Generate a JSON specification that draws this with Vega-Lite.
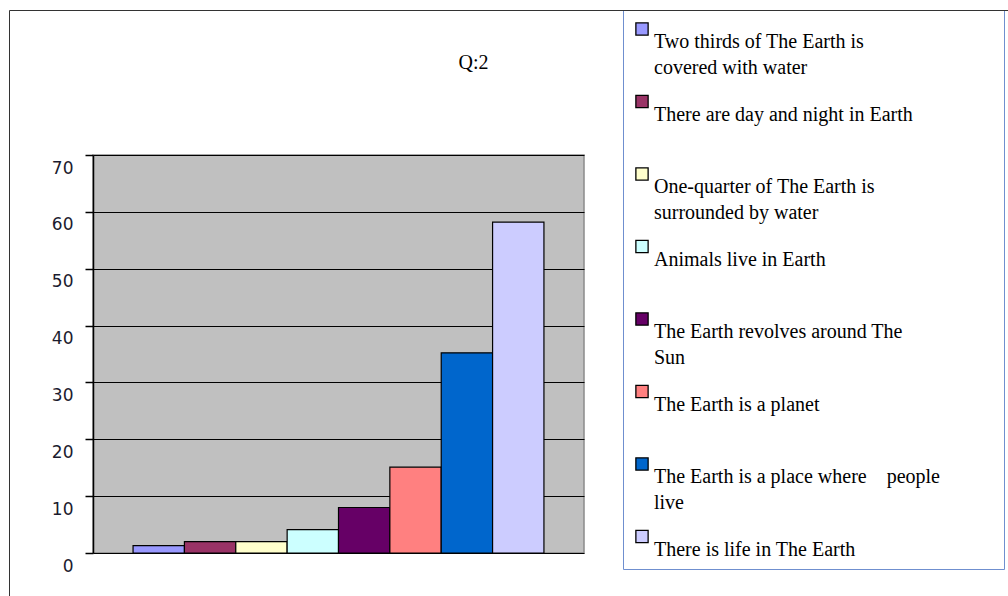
{
  "$schema": "https://vega.github.io/schema/vega-lite/v6.json",
  "width": 491,
  "height": 398,
  "autosize": "none",
  "padding": {"left": 93, "top": 155, "right": 424, "bottom": 43},
  "background": "white",
  "title": {
    "text": "Q:2",
    "font": "Liberation Serif",
    "fontSize": 20,
    "fontWeight": "normal",
    "color": "black",
    "anchor": "middle",
    "frame": "group",
    "baseline": "alphabetic",
    "offset": -79,
    "dx": 135
  },
  "data": {
    "values": [
      {"answer": "Two thirds of The Earth is\ncovered with water", "percent": 1.3},
      {"answer": "There are day and night in Earth", "percent": 2.0},
      {"answer": "One-quarter of The Earth is\nsurrounded by water", "percent": 2.0},
      {"answer": "Animals live in Earth", "percent": 4.1},
      {"answer": "The Earth revolves around The\nSun", "percent": 8.0},
      {"answer": "The Earth is a planet", "percent": 15.1},
      {"answer": "The Earth is a place where \u00a0\u00a0\u00a0people\nlive", "percent": 35.2},
      {"answer": "There is life in The Earth", "percent": 58.2}
    ]
  },
  "mark": {"type": "bar", "stroke": "black", "strokeWidth": 1.2},
  "encoding": {
    "x": {
      "field": "answer",
      "type": "nominal",
      "sort": null,
      "axis": null,
      "scale": {"paddingInner": 0, "paddingOuter": 0.78}
    },
    "y": {
      "field": "percent",
      "type": "quantitative",
      "scale": {"domain": [0, 70]},
      "axis": {
        "title": null,
        "values": [0, 10, 20, 30, 40, 50, 60, 70],
        "grid": true,
        "gridColor": "black",
        "gridWidth": 1,
        "gridOpacity": 1,
        "domainColor": "black",
        "domainWidth": 1.5,
        "tickColor": "black",
        "tickSize": 8,
        "tickWidth": 1.5,
        "labelFont": "DejaVu Sans",
        "labelFontSize": 17,
        "labelColor": "#1b1b2e",
        "labelPadding": 12,
        "labelOffset": 13
      }
    },
    "opacity": {
      "datum": "chart",
      "type": "nominal",
      "scale": {"domain": ["chart"], "range": [1]},
      "legend": {
        "title": null,
        "orient": "none",
        "legendX": -84,
        "legendY": -145,
        "padding": 500,
        "strokeColor": "#333333",
        "symbolOpacity": 0,
        "symbolSize": 0,
        "symbolStrokeWidth": 0,
        "labelFontSize": 2,
        "labelExpr": "''"
      }
    },
    "color": {
      "field": "answer",
      "type": "nominal",
      "sort": null,
      "scale": {
        "range": ["#9999FF", "#993366", "#FFFFCC", "#CCFFFF", "#660066", "#FF8080", "#0066CC", "#CCCCFF"]
      },
      "legend": {
        "title": null,
        "orient": "none",
        "legendX": 530,
        "legendY": -145,
        "direction": "vertical",
        "padding": 9,
        "strokeColor": "#6f8fcf",
        "fillColor": "white",
        "cornerRadius": 0,
        "symbolType": "square",
        "symbolSize": 150,
        "symbolStrokeColor": "black",
        "symbolStrokeWidth": 1.3,
        "labelFont": "Liberation Serif",
        "labelFontSize": 20,
        "labelColor": "black",
        "labelBaseline": "line-top",
        "labelLimit": 600,
        "labelOffset": 2,
        "rowPadding": 13.5,
        "gridAlign": "each",
        "labelExpr": "indexof(datum.label, '\\n') >= 0 || datum.label == 'There is life in The Earth' ? split(replace(datum.label, '\\n', '\u00a0\u00a0\u00a0\u00a0\u00a0\u00a0\u00a0\u00a0\u00a0\u00a0\u00a0\u200b\\n'), '\\n') : [datum.label, ' ']"
      }
    }
  },
  "config": {
    "view": {"fill": "#C0C0C0", "stroke": "#8a8a8a", "strokeWidth": 1.5},
    "style": {"guide-label": {"lineHeight": 26}}
  }
}
